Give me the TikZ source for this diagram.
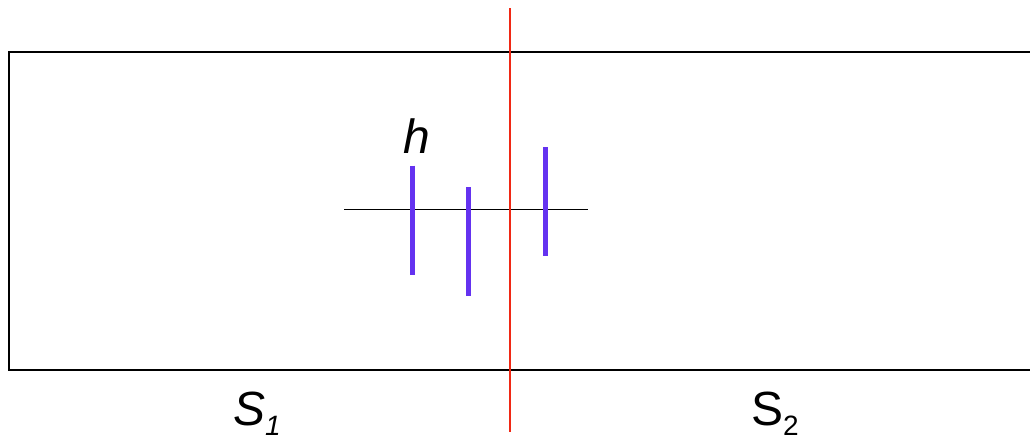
\documentclass[tikz,border=0pt]{standalone}
\usepackage{fontspec}
\setmainfont{Liberation Sans}
\definecolor{barblue}{RGB}{100,50,240}
\definecolor{cutred}{RGB}{240,40,20}
\begin{document}
\begin{tikzpicture}[x=1pt,y=-1pt,
  bar/.style={line width=5pt,draw=barblue},
  lab/.style={inner sep=0pt,anchor=base west}]
\useasboundingbox (0,0) rectangle (1030,439);
\begin{scope}
\clip (0,0) rectangle (1030,439);
\draw[line width=2pt] (1040,52) -- (9,52) -- (9,370) -- (1040,370);
\end{scope}
\coordinate (la) at (344,209.3);
\coordinate (lb) at (588,209.3);
\draw[line width=1.5pt] (la) -- (lb);
\coordinate (ra) at (510,8);
\coordinate (rb) at (510,432);
\draw[line width=1.5pt,draw=cutred] (ra) -- (rb);
\coordinate (b1a) at (412.3,165.7);
\coordinate (b1b) at (412.3,274.7);
\coordinate (b2a) at (468.3,187.3);
\coordinate (b2b) at (468.3,295.7);
\coordinate (b3a) at (545.7,147);
\coordinate (b3b) at (545.7,256);
\draw[bar] (b1a) -- (b1b);
\draw[bar] (b2a) -- (b2b);
\draw[bar] (b3a) -- (b3b);
\node[lab] (h) at (403,153) {\fontsize{48}{48}\selectfont\itshape h};
\node[lab] (s1) at (233,425) {\fontsize{48}{48}\selectfont\itshape S\raisebox{-10pt}{\fontsize{28}{28}\selectfont 1}};
\node[lab] (s2) at (751,425) {\fontsize{48}{48}\selectfont S\raisebox{-10pt}{\fontsize{28}{28}\selectfont 2}};
\end{tikzpicture}
\end{document}
